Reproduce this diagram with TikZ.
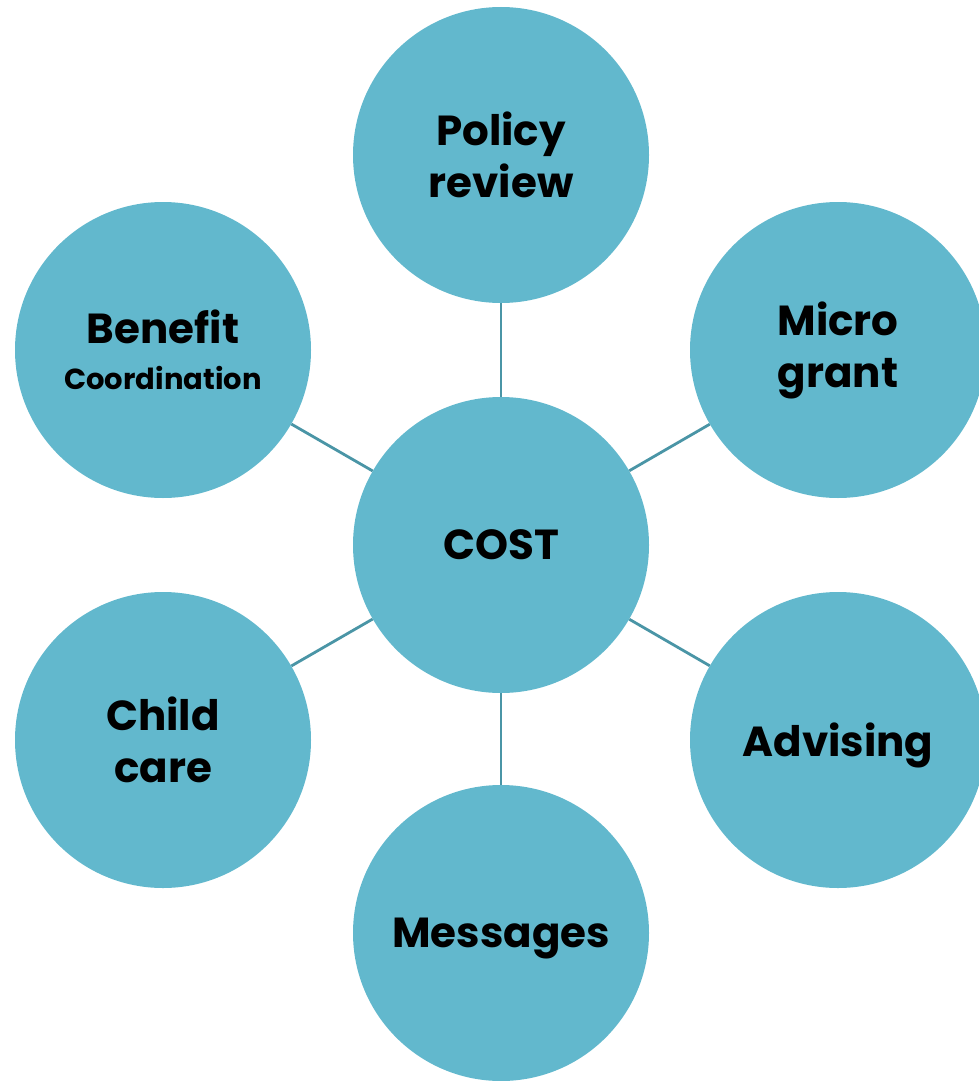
\documentclass[tikz,border=0pt]{standalone}
\usepackage{fontspec}
\setmainfont{Poppins}
\usetikzlibrary{positioning}
\definecolor{bubble}{HTML}{62B8CD}
\definecolor{spoke}{HTML}{4A95A6}
\tikzset{
  hub/.style={circle, fill=bubble, minimum size=296pt, inner sep=0pt,
    align=center, font=\bfseries\fontsize{42}{52}\selectfont},
  oneline/.style={text depth=0pt},
  link/.style={draw=spoke, line width=2.8pt}
}
\begin{document}
\begin{tikzpicture}[x=1pt,y=-1pt]
	\useasboundingbox (0,0) rectangle (978,1081);
	% centre and the six around it
	\node[hub,oneline] (cost) at (501,545) {COST};
	\node[hub] (policy) at (501,155) {Policy\\review};
	\node[hub] (micro) at (838,350) {Micro\\grant};
	\node[hub,oneline] (advising) at (838,740) {Advising};
	\node[hub,oneline] (messages) at (501,933) {Messages};
	\node[hub] (child) at (163,740) {Child\\care};
	\node[hub] (benefit) at (163,350) {Benefit\\[-6pt]\fontsize{29}{36}\selectfont Coordination};
	% spokes
	\draw[link] (cost) -- (policy);
	\draw[link] (cost) -- (micro);
	\draw[link] (cost) -- (advising);
	\draw[link] (cost) -- (messages);
	\draw[link] (cost) -- (child);
	\draw[link] (cost) -- (benefit);
\end{tikzpicture}
\end{document}
